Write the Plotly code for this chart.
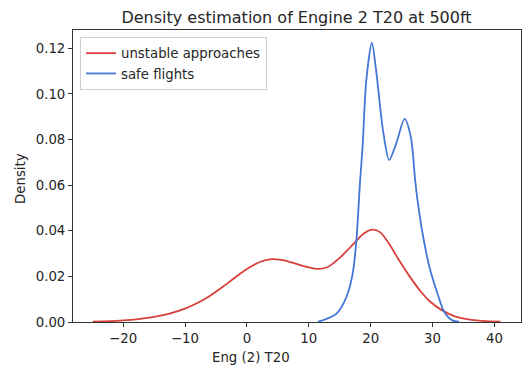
import plotly.graph_objects as go

# Data (KDE curves)
unstable_x = [-24.9, -22, -20, -17.5, -15, -12.5, -10, -8, -6, -4, -2, 0, 2, 3.7, 5.5, 7.5, 9.5, 11.5, 13,
              15, 17, 19, 20.3, 21.5, 23, 24.5, 26.3, 28, 29.5, 31.5, 33.5, 35.5, 38, 41]
unstable_y = [0.0002, 0.0004, 0.0007, 0.0013, 0.0022, 0.0037, 0.0059, 0.0083, 0.0114, 0.0152, 0.0193, 0.0232,
              0.0262, 0.0275, 0.0272, 0.0259, 0.0243, 0.0233, 0.0240, 0.0281, 0.0336, 0.0390, 0.0405, 0.0394,
              0.0342, 0.0275, 0.0200, 0.0137, 0.0092, 0.0052, 0.0026, 0.0013, 0.0005, 0.0002]

safe_x = [11.5, 12.5, 14.5, 16.1, 17.1, 17.7, 18.3, 18.7, 19.3, 20.2, 20.9, 22.0, 23.0, 24.1, 25.5, 26.5,
          27.2, 27.6, 28.4, 29.5, 30.8, 31.9, 33.2, 34.3]
safe_y = [0.0002, 0.001, 0.0037, 0.011, 0.0212, 0.0358, 0.062, 0.0768, 0.106, 0.1225, 0.110, 0.084, 0.071,
          0.078, 0.089, 0.081, 0.062, 0.053, 0.0388, 0.0241, 0.0125, 0.0044, 0.0007, 0.0001]

x_ticks = [-20, -10, 0, 10, 20, 30, 40]
y_ticks = [0.00, 0.02, 0.04, 0.06, 0.08, 0.10, 0.12]

FONT = "DejaVu Sans"
RED = "#d8403a"
BLUE = "#4477d6"
TXT = "#262626"
FS = 13.3

fig = go.Figure()
fig.add_trace(go.Scatter(x=unstable_x, y=unstable_y, mode="lines", name="unstable approaches",
                         line=dict(color=RED, width=1.8, shape="spline", smoothing=1.0)))
fig.add_trace(go.Scatter(x=safe_x, y=safe_y, mode="lines", name="safe flights",
                         line=dict(color=BLUE, width=1.8, shape="spline", smoothing=0.8)))

axis_common = dict(showgrid=False, zeroline=False, showline=True, mirror=True,
                   linecolor="#333333", linewidth=1, ticks="outside", ticklen=4,
                   tickcolor="#333333", tickfont=dict(family=FONT, size=FS, color=TXT))

fig.update_layout(
    width=522, height=371,
    margin=dict(l=73, r=1, t=30, b=49),
    paper_bgcolor="white", plot_bgcolor="white",
    font=dict(family=FONT, color=TXT),
    title=dict(text="Density estimation of Engine 2 T20 at 500ft", x=(296.5 / 522), xanchor="center",
               y=1 - 17 / 371, yanchor="middle", yref="container",
               font=dict(family=FONT, size=16, color=TXT)),
    xaxis=dict(range=[-28.1, 44.3], tickvals=x_ticks, **axis_common),
    yaxis=dict(range=[0, 0.128], tickvals=y_ticks, tickformat=".2f", **axis_common),
    legend=dict(x=0.0156, y=0.976, xanchor="left", yanchor="top",
                bordercolor="#d0d0d0", borderwidth=1, bgcolor="rgba(255,255,255,0.8)",
                font=dict(family=FONT, size=FS, color=TXT), itemwidth=30,
                tracegroupgap=0),
    showlegend=True,
    annotations=[
        dict(text="Eng (2) T20", xref="paper", yref="paper", x=(251 - 73) / 448, y=(321.7 - 357) / 292,
             xanchor="center", yanchor="middle", showarrow=False,
             font=dict(family=FONT, size=FS, color=TXT)),
        dict(text="Density", xref="paper", yref="paper", x=(21 - 73) / 448, y=0.49,
             xanchor="center", yanchor="middle", textangle=-90, showarrow=False,
             font=dict(family=FONT, size=FS, color=TXT)),
    ],
)

fig.write_html("out.html")
